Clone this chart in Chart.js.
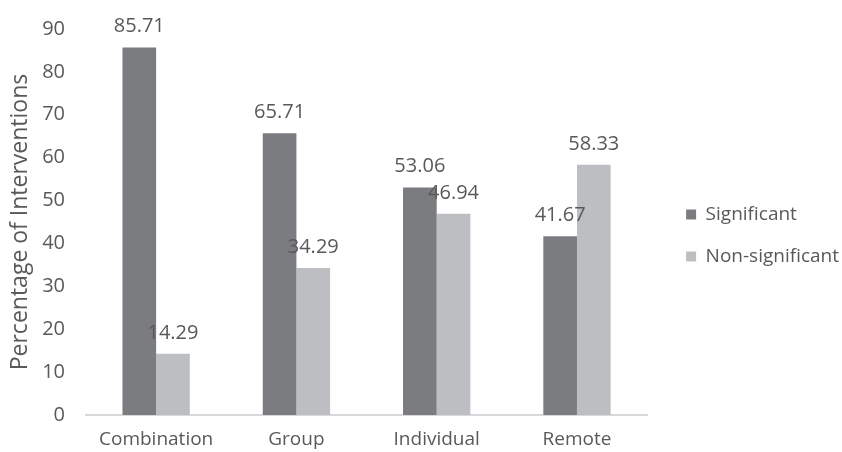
<!DOCTYPE html>
<html>
<head>
<meta charset="utf-8">
<script src="https://cdn.jsdelivr.net/npm/chart.js@4"></script>
<style>
html,body{margin:0;padding:0;background:#fff;}
#wrap{width:842px;height:452px;position:relative;}
</style>
</head>
<body>
<div id="wrap"><canvas id="c" width="842" height="452"></canvas></div>
<script>
const categories = ["Combination", "Group", "Individual", "Remote"];
const significant = [85.71, 65.71, 53.06, 41.67];
const nonSignificant = [14.29, 34.29, 46.94, 58.33];
const seriesNames = ["Significant", "Non-significant"];
const yTicks = [0, 10, 20, 30, 40, 50, 60, 70, 80, 90];
const yTitle = "Percentage of Interventions";

const FONT = "'Open Sans', 'Noto Sans', sans-serif";
const TXT = "#595959";
const LEGEND_PAD = 23;
const LEGEND_GAP = 39;
const LEGEND_LIFT = 5;

const labelPlugin = {
  id: 'valueLabels',
  afterLayout(chart) {
    const lg = chart.legend;
    if (lg) {
      lg.left = chart.chartArea.right + LEGEND_GAP - LEGEND_PAD;
      lg.right = chart.width;
      lg.width = lg.right - lg.left;
      lg.top -= LEGEND_LIFT;
      lg.bottom -= LEGEND_LIFT;
    }
  },
  afterDatasetsDraw(chart) {
    const ctx = chart.ctx;
    ctx.save();
    ctx.font = "20px " + FONT;
    ctx.fillStyle = TXT;
    ctx.textAlign = "center";
    ctx.textBaseline = "alphabetic";
    chart.data.datasets.forEach((ds, di) => {
      const meta = chart.getDatasetMeta(di);
      meta.data.forEach((bar, i) => {
        ctx.fillText(ds.data[i].toFixed(2), bar.x, bar.y - 15);
      });
    });
    ctx.restore();
  }
};

new Chart(document.getElementById('c'), {
  type: 'bar',
  data: {
    labels: categories,
    datasets: [
      { label: seriesNames[0], data: significant, backgroundColor: "#7b7c80", borderWidth: 0 },
      { label: seriesNames[1], data: nonSignificant, backgroundColor: "#bdbec2", borderWidth: 0 }
    ]
  },
  options: {
    responsive: false,
    animation: false,
    devicePixelRatio: 1,
    layout: { padding: { top: 29, left: 0, right: 9, bottom: 0 } },
    datasets: { bar: { categoryPercentage: 0.48, barPercentage: 1.0 } },
    plugins: {
      legend: {
        position: 'right',
        align: 'center',
        labels: {
          boxWidth: 10, boxHeight: 10, padding: LEGEND_PAD,
          color: TXT, font: { family: FONT, size: 19 }
        }
      },
      tooltip: { enabled: false }
    },
    scales: {
      x: {
        grid: { display: false, drawTicks: false },
        border: { display: true, color: "#d9d9d9", width: 2 },
        ticks: { color: TXT, font: { family: FONT, size: 19 }, padding: 13, maxRotation: 0 },
        afterFit(scale) { scale.height = 37; scale.paddingLeft = 0; scale.paddingRight = 0; }
      },
      y: {
        min: 0, max: 90,
        afterBuildTicks(axis) { axis.ticks = yTicks.map(v => ({ value: v })); },
        grid: { display: false, drawTicks: false },
        border: { display: false },
        ticks: { color: TXT, font: { family: FONT, size: 20 }, padding: 21 },
        title: { display: true, text: yTitle, color: TXT, font: { family: FONT, size: 23 }, padding: { top: 7, bottom: 0 } },
        afterFit(scale) { scale.width = 86; scale.paddingTop = 0; scale.paddingBottom = 0; }
      }
    }
  },
  plugins: [labelPlugin]
});
</script>
</body>
</html>
